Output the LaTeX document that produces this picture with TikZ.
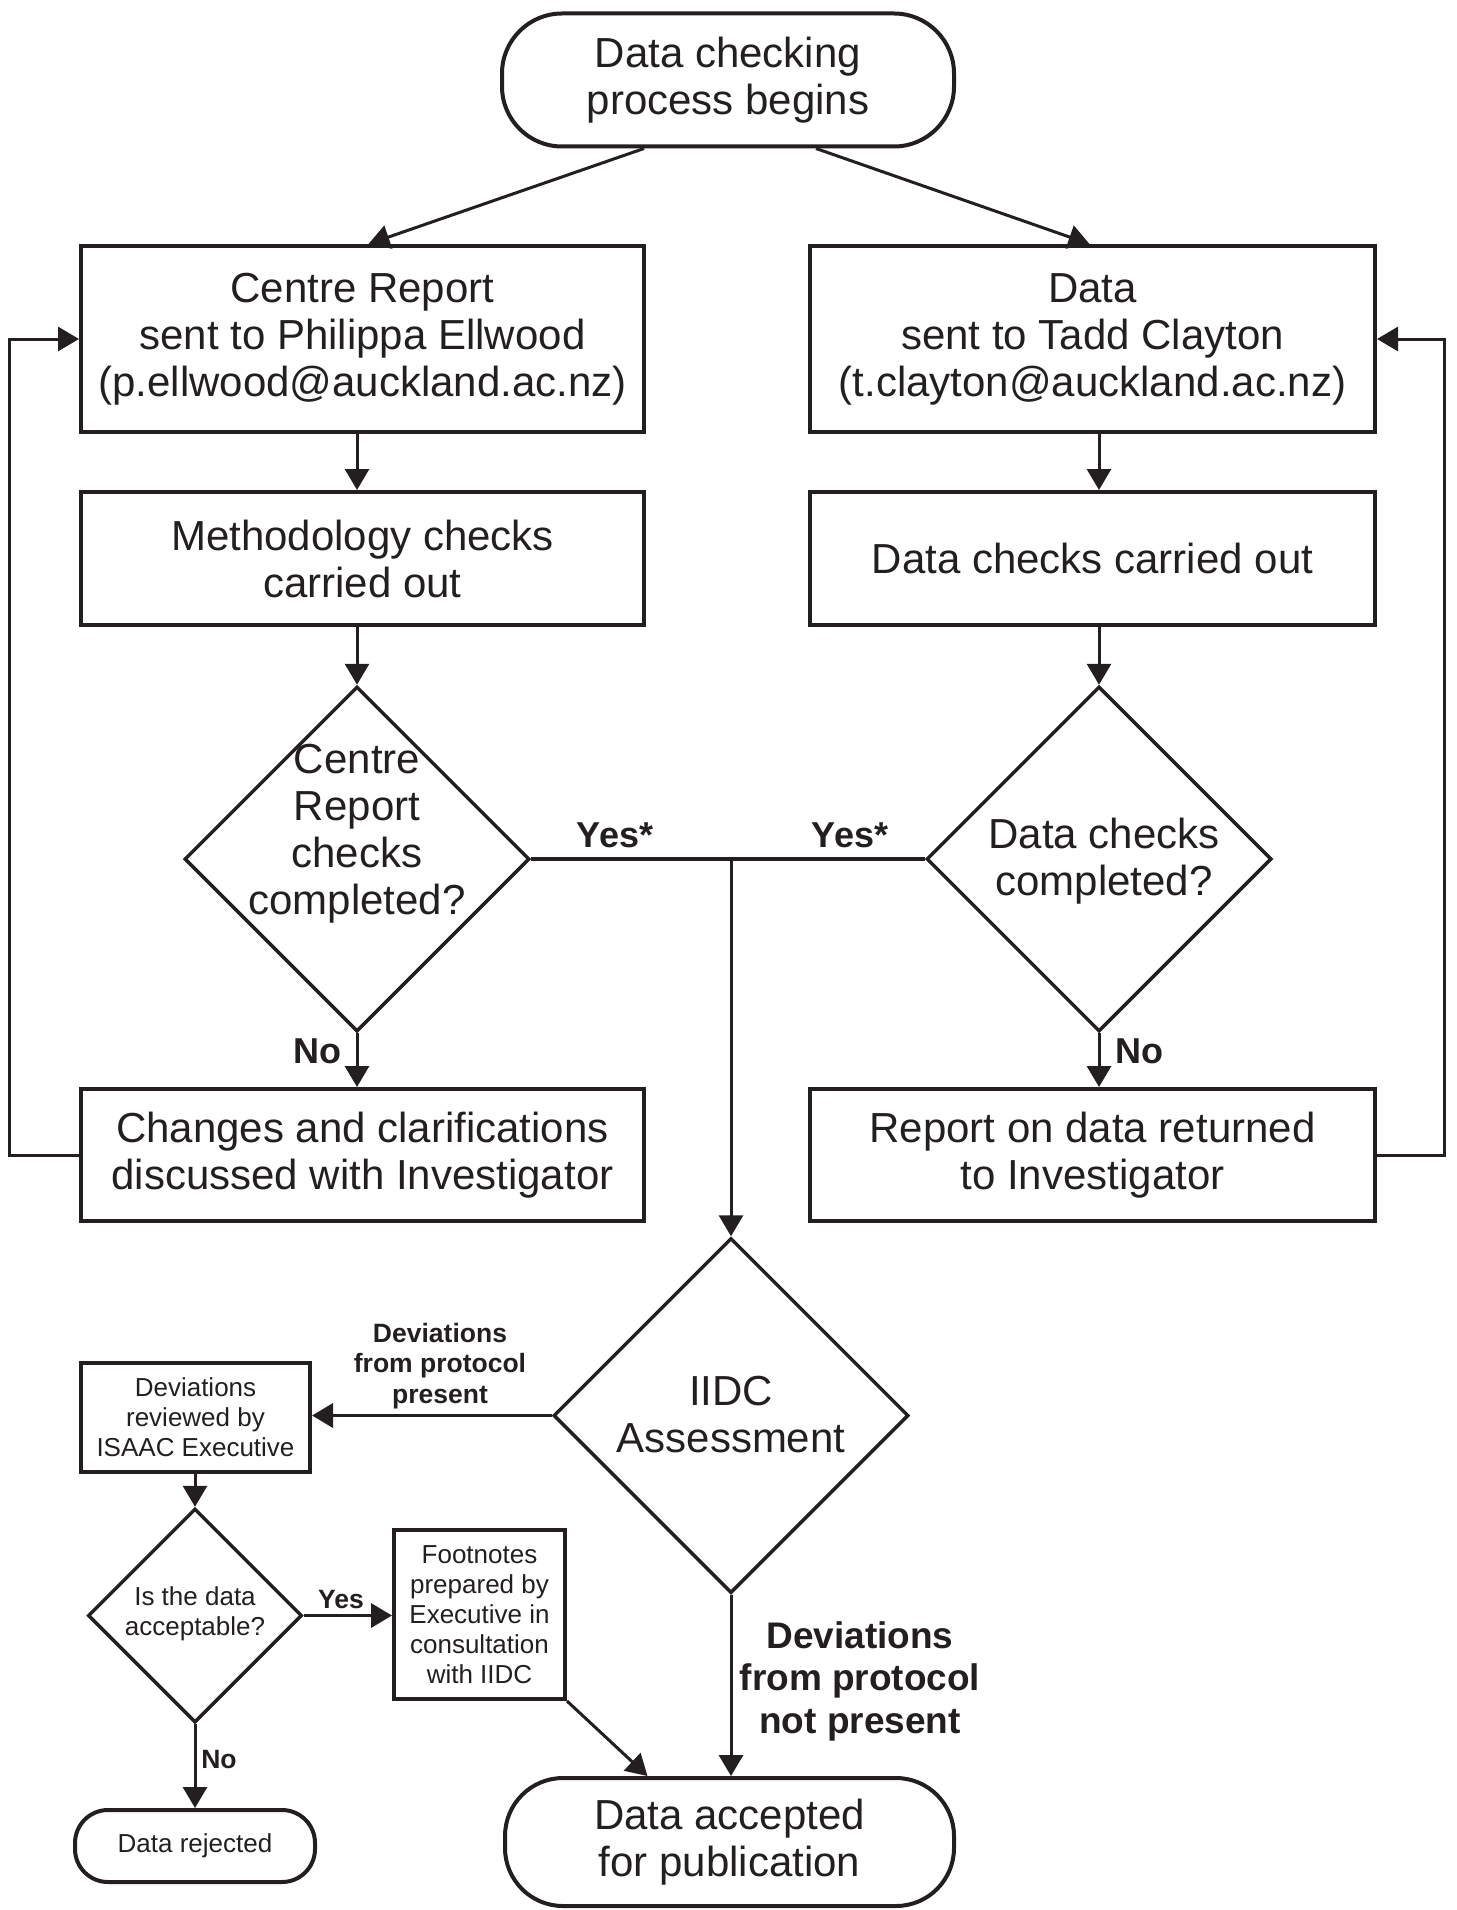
\documentclass[tikz,border=0pt]{standalone}
\usepackage{fontspec}
\setmainfont{Liberation Sans}
\usetikzlibrary{shapes.geometric,arrows.meta,calc}
\definecolor{ink}{HTML}{231F20}
\newcommand\fbig{\fontsize{42}{47}\selectfont}
\newcommand\fsmall{\fontsize{26}{30}\selectfont}
\newcommand\fbigbold{\fontsize{37}{42.5}\selectfont\bfseries}
\newcommand\fsmallbold{\fontsize{26.5}{30.5}\selectfont\bfseries}
\begin{document}
\begin{tikzpicture}[x=1pt,y=-1pt,
  box/.style={draw=ink,line width=4pt,inner sep=0pt,align=center,text=ink,font=\fbig},
  sbox/.style={box,font=\fsmall},
  term/.style={box},
  dia/.style={draw=ink,line width=3.5pt,shape=diamond,aspect=1,inner sep=0pt},
  txt/.style={text=ink,align=center,inner sep=0pt,font=\fbig},
  stxt/.style={txt,font=\fsmall},
  lbl/.style={text=ink,align=center,inner sep=0pt,font=\fontsize{36}{40}\selectfont\bfseries},
  slbl/.style={text=ink,align=center,inner sep=0pt,font=\fsmallbold},
  conn/.style={draw=ink,line width=3pt,-{Triangle[width=24pt,length=21pt]}},
  wire/.style={draw=ink,line width=4pt}]
\useasboundingbox (0,0) rectangle (1456,1910);

% nodes
\node[term,minimum width=452pt,minimum height=133pt,rounded corners=60pt] (start) at (728,80) {Data checking\\process begins};
\node[box,minimum width=563pt,minimum height=186pt] (lb1) at (362.5,339) {Centre Report\\sent to Philippa Ellwood\\(p.ellwood@auckland.ac.nz)};
\node[box,minimum width=565pt,minimum height=186pt] (rb1) at (1092.5,339) {Data\\sent to Tadd Clayton\\(t.clayton@auckland.ac.nz)};
\node[box,minimum width=563pt,minimum height=133pt] (lb2) at (362.5,558.5) {Methodology checks\\carried out};
\node[box,minimum width=565pt,minimum height=133pt] (rb2) at (1092.5,558.5) {Data checks carried out};
\node[dia,minimum width=345pt,minimum height=345pt] (ld) at (357,859) {};
\node[txt] (ldt) at (357,834) {Centre\\Report\\checks\\completed?};
\node[dia,minimum width=345pt,minimum height=345pt] (rd) at (1099,859) {};
\node[txt] (rdt) at (1104,861) {Data checks\\completed?};
\node[box,minimum width=563pt,minimum height=132pt] (lb3) at (362.5,1155) {Changes and clarifications\\discussed with Investigator};
\node[box,minimum width=565pt,minimum height=132pt] (rb3) at (1092.5,1155) {Report on data returned\\to Investigator};
\node[dia,minimum width=355pt,minimum height=355pt] (iidc) at (731,1415.5) {};
\node[txt] (iidct) at (731,1415) {IIDC\\Assessment};
\node[sbox,minimum width=229pt,minimum height=109pt] (dev) at (195.5,1417.5) {Deviations\\reviewed by\\ISAAC Executive};
\node[dia,minimum width=214pt,minimum height=214pt] (sd) at (195,1615.5) {};
\node[stxt] (sdt) at (195,1614) {Is the data\\acceptable?};
\node[sbox,minimum width=171pt,minimum height=169pt] (foot) at (479.5,1614.5) {Footnotes\\prepared by\\Executive in\\consultation\\with IIDC};
\node[term,font=\fsmall,minimum width=240pt,minimum height=72pt,rounded corners=33pt] (rej) at (195,1846) {Data rejected};
\node[term,minimum width=449pt,minimum height=128pt,rounded corners=58pt] (acc) at (729.5,1842) {Data accepted\\for publication};

% labels
\node[lbl] (yl) at (615,835) {Yes*};
\node[lbl] (yr) at (850,835) {Yes*};
\node[lbl] (nl) at (317,1051) {No};
\node[lbl] (nr) at (1139,1051) {No};
\node[slbl] (dp) at (440,1366) {Deviations\\from protocol\\present};
\node[slbl] (sy) at (341,1599) {Yes};
\node[slbl] (sn) at (219,1759) {No};
\node[text=ink,align=center,inner sep=0pt,font=\fbigbold] (np) at (860,1681) {Deviations\\from protocol\\not present};

% connectors
\draw[conn] ($(start.south)+(-84,0)$) -- ($(lb1.north)+(6,0)$);
\draw[conn] ($(start.south)+(88,0)$) -- ($(rb1.north)+(-3,0)$);
\draw[conn] (lb1.south -| ld.north) -- (lb2.north -| ld.north);
\draw[conn] (rb1.south -| rd.north) -- (rb2.north -| rd.north);
\draw[conn] (lb2.south -| ld.north) -- (ld.north);
\draw[conn] (rb2.south -| rd.north) -- (rd.north);
\draw[conn] (ld.south) -- (lb3.north -| ld.south);
\draw[conn] (rd.south) -- (rb3.north -| rd.south);
\draw[conn] (lb3.west) -- ++(-70,0) |- (lb1.west);
\draw[conn] (rb3.east) -- ++(67,0) |- (rb1.east);
\draw[wire] (ld.east) -- (rd.west);
\coordinate (j) at (iidc.north |- ld.east);
\draw[conn] (j) -- (iidc.north);
\draw[conn,line width=3.5pt] (iidc.west) -- (dev.east |- iidc.west);
\draw[conn] (dev.south -| sd.north) -- (sd.north);
\draw[conn,line width=3.5pt] (sd.east) -- (foot.west |- sd.east);
\draw[conn] (sd.south) -- (rej.north);
\draw[conn] (foot.south east) -- ($(acc.north)+(-82,0)$);
\draw[conn] (iidc.south) -- (acc.north -| iidc.south);
\end{tikzpicture}
\end{document}
